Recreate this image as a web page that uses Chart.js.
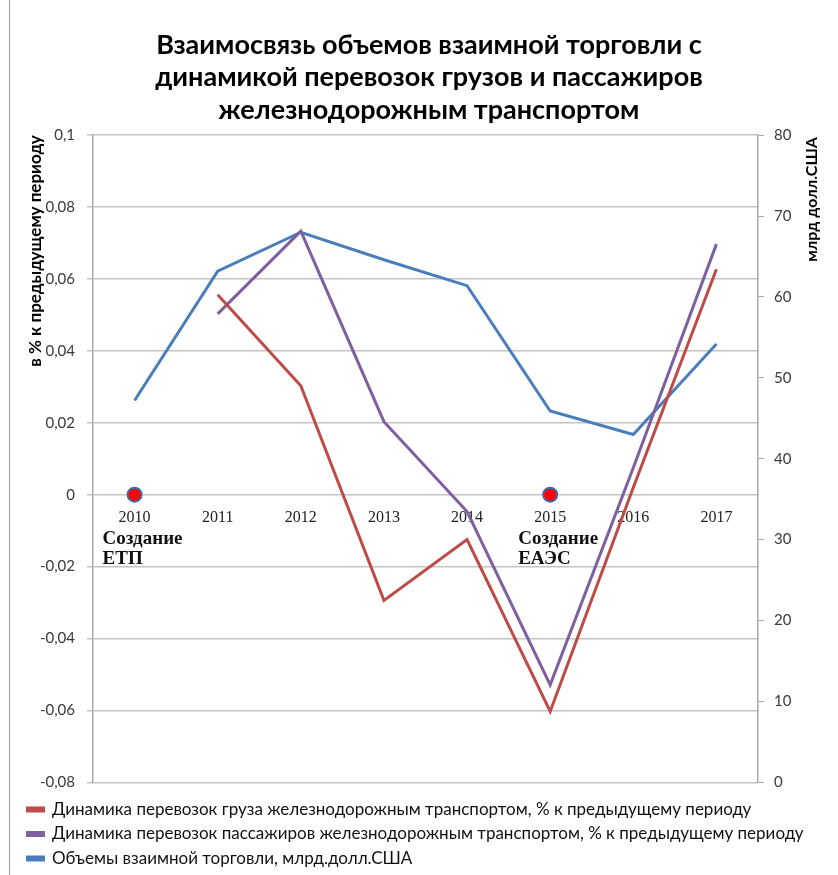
<!DOCTYPE html>
<html lang="ru">
<head>
<meta charset="utf-8">
<title>Взаимосвязь объемов взаимной торговли</title>
<script src="https://cdn.jsdelivr.net/npm/chart.js@4/dist/chart.umd.min.js"></script>
<style>
  html, body { margin: 0; padding: 0; background: #fff; }
  #wrap { position: relative; width: 838px; height: 875px; }
  #frame { position: absolute; left: 9px; top: 0; width: 1px; height: 875px; background: #9a9a9a; }
</style>
</head>
<body>
<div id="wrap">
  <div id="frame"></div>
  <canvas id="chart"></canvas>
</div>
<script>
const YEARS = ['2010', '2011', '2012', '2013', '2014', '2015', '2016', '2017'];

const CARGO_LABEL = 'Динамика перевозок груза железнодорожным транспортом, % к предыдущему периоду';
const PASSENGER_LABEL = 'Динамика перевозок пассажиров железнодорожным транспортом, % к предыдущему периоду';
const TRADE_LABEL = 'Объемы взаимной торговли, млрд.долл.США';

// left axis, share vs previous period
const cargoGrowth = [null, 0.0556, 0.0303, -0.0294, -0.0125, -0.0603, 0.002, 0.0627];
const passengerGrowth = [null, 0.0503, 0.0733, 0.0203, -0.0047, -0.0529, 0.0075, 0.0697];
// right axis, bln USD
const tradeVolume = [47.2, 63.2, 68.0, 64.6, 61.4, 45.9, 43.0, 54.2];

// milestone dots sit on the zero line
const milestoneDots = [0, null, null, null, null, 0, null, null];
const milestoneText = [
    { year: '2010', lines: ['Создание', 'ЕТП'] },
    { year: '2015', lines: ['Создание', 'ЕАЭС'] },
];

const TITLE_LINES = [
    'Взаимосвязь объемов взаимной торговли с',
    'динамикой перевозок грузов и пассажиров',
    'железнодорожным транспортом',
];
const LEFT_AXIS_TITLE = 'в % к предыдущему периоду';
const RIGHT_AXIS_TITLE = 'млрд долл.США';

const RED = '#be4b48';
const PURPLE = '#7d60a0';
const BLUE = '#4a7ebb';
const SANS = 'Lato, "Open Sans", sans-serif';
const SERIF = '"Liberation Serif", "DejaVu Serif", serif';

function formatShare(v) {
    return String(Number(v.toFixed(2))).replace('.', ',');
}

// captions under the milestone dots + right axis title (reads bottom to top, like the left one)
const extrasPlugin = {
    id: 'extras',
    afterDatasetsDraw(chart) {
        const x = chart.scales.x;
        const y = chart.scales.y;
        const y1 = chart.scales.y1;
        const ctx = chart.ctx;
        ctx.save();
        ctx.font = 'bold 19px ' + SERIF;
        ctx.fillStyle = '#111';
        ctx.textAlign = 'left';
        ctx.textBaseline = 'middle';
        milestoneText.forEach((m) => {
            const px = x.getPixelForValue(YEARS.indexOf(m.year));
            const py = y.getPixelForValue(0);
            m.lines.forEach((line, i) => {
                ctx.fillText(line, px - 32, py + 44 + i * 20);
            });
        });
        ctx.restore();

        ctx.save();
        ctx.translate(y1.left + 54, chart.chartArea.top + 2);
        ctx.rotate(-Math.PI / 2);
        ctx.font = 'bold 16px ' + SANS;
        ctx.fillStyle = '#000';
        ctx.textAlign = 'right';
        ctx.textBaseline = 'middle';
        ctx.fillText(RIGHT_AXIS_TITLE, 0, 0);
        ctx.restore();
    }
};

const ctx = document.getElementById('chart').getContext('2d');
new Chart(ctx, {
    type: 'line',
    data: {
        labels: YEARS,
        datasets: [
            {
                label: CARGO_LABEL,
                data: cargoGrowth,
                yAxisID: 'y',
                borderColor: RED,
                backgroundColor: RED,
                borderWidth: 3,
                pointRadius: 0,
                tension: 0,
            },
            {
                label: PASSENGER_LABEL,
                data: passengerGrowth,
                yAxisID: 'y',
                borderColor: PURPLE,
                backgroundColor: PURPLE,
                borderWidth: 3,
                pointRadius: 0,
                tension: 0,
            },
            {
                label: TRADE_LABEL,
                data: tradeVolume,
                yAxisID: 'y1',
                borderColor: BLUE,
                backgroundColor: BLUE,
                borderWidth: 3,
                pointRadius: 0,
                tension: 0,
            },
            {
                label: 'milestones',
                data: milestoneDots,
                yAxisID: 'y',
                showLine: false,
                pointRadius: 7,
                pointBorderWidth: 2,
                pointBackgroundColor: '#ff0000',
                pointBorderColor: '#3f6aa8',
            },
        ],
    },
    options: {
        responsive: true,
        maintainAspectRatio: false,
        animation: false,
        layout: { padding: { left: 20, right: 0, top: 29, bottom: -2 } },
        plugins: {
            title: {
                display: true,
                text: TITLE_LINES,
                color: '#000',
                font: { family: SANS, size: 27, weight: 'bold', lineHeight: 1.2 },
                padding: { top: 0, bottom: 9 },
            },
            legend: {
                position: 'bottom',
                align: 'start',
                title: {
                    display: true,
                    text: '',
                    font: { size: 1 },
                    padding: { top: 0, bottom: 10 },
                },
                labels: {
                    boxWidth: 16,
                    boxHeight: 3,
                    padding: 7.5,
                    color: '#111',
                    font: { family: SANS, size: 17 },
                    filter: (item) => item.text !== 'milestones',
                },
            },
            tooltip: { enabled: false },
        },
        scales: {
            x: {
                type: 'category',
                position: { y: 0 },
                offset: true,
                grid: { display: false, drawTicks: false },
                border: { display: false },
                ticks: {
                    color: '#222',
                    padding: 13,
                    font: { family: SERIF, size: 16 },
                    maxRotation: 0,
                },
            },
            y: {
                position: 'left',
                min: -0.08,
                max: 0.1,
                afterFit(scale) { scale.width = 73; },
                ticks: {
                    stepSize: 0.02,
                    padding: 12,
                    color: '#3a3a3a',
                    font: { family: SANS, size: 15 },
                    callback: (v) => formatShare(v),
                },
                grid: { color: '#c4c4c4', tickLength: 6, lineWidth: 1.5 },
                border: { color: '#a8a8a8', width: 1.5 },
                title: {
                    display: true,
                    text: LEFT_AXIS_TITLE,
                    align: 'end',
                    color: '#000',
                    font: { family: SANS, size: 17, weight: 'bold' },
                    padding: { top: 5, bottom: 0 },
                },
            },
            y1: {
                position: 'right',
                min: 0,
                max: 80,
                afterFit(scale) { scale.width = 80; },
                ticks: {
                    stepSize: 10,
                    padding: 10,
                    color: '#3a3a3a',
                    font: { family: SANS, size: 15 },
                },
                grid: { drawOnChartArea: false, color: '#a8a8a8', tickLength: 6 },
                border: { color: '#a8a8a8', width: 1.5 },
            },
        },
    },
    plugins: [extrasPlugin],
});
</script>
</body>
</html>
